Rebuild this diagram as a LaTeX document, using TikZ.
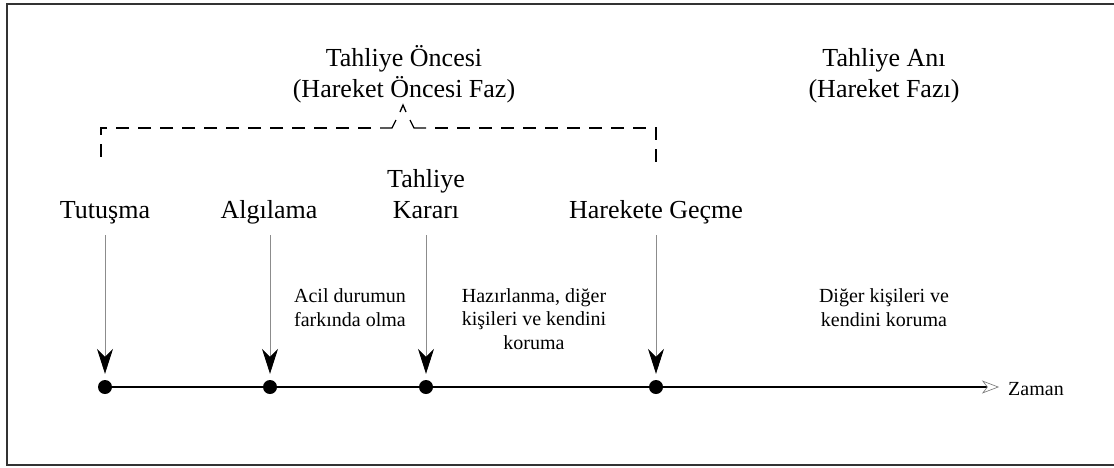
\documentclass[tikz,border=0pt]{standalone}
\usepackage{fontspec}
\setmainfont{Liberation Serif}
\usetikzlibrary{arrows.meta}
\begin{document}
\begin{tikzpicture}[x=1pt,y=-1pt,
  big/.style={font=\fontsize{26}{31}\selectfont, align=center, inner sep=0pt},
  small/.style={font=\fontsize{20}{23.5}\selectfont, align=center, inner sep=0pt},
  dot/.style={circle, fill=black, minimum size=14pt, inner sep=0pt},
  evarrow/.style={draw=black!45, line width=0.8pt, shorten >=6pt,
    -{Stealth[length=25pt,width=16pt,inset=8pt,black]}},
  timeline/.style={draw=black, line width=1.1pt,
    -{Stealth[open,length=17pt,width=13pt,inset=5pt,line width=0.6pt,black!55]}},
  bracket/.style={draw=black, line width=1.3pt, dash pattern=on 13pt off 9pt},
  bracesolid/.style={draw=black, line width=1.3pt}
]
\useasboundingbox (0,0) rectangle (1114,467);
\fill[white] (0,0) rectangle (1114,467);
\draw[line width=2pt, black!80] (1120,4) -- (7,4) -- (7,465) -- (1120,465);

% time line
\node[dot] (d1) at (105,387) {};
\node[dot] (d2) at (270,387) {};
\node[dot] (d3) at (426,387) {};
\node[dot] (d4) at (656,387) {};
\coordinate (tend) at (999,387);
\draw[timeline] (d1.center) -- (tend);
\node[small, anchor=west] (zaman) at (1008,389) {Zaman};

% event labels
\node[big, anchor=base] (l1) at (105,218) {Tutuşma};
\node[big, anchor=base] (l2) at (269,218) {Algılama};
\node[big, anchor=base] (l3) at (426,218) {Tahliye\\Kararı};
\node[big, anchor=base] (l4) at (656,218) {Harekete Geçme};

% event arrows
\coordinate (s1) at (105,235);
\coordinate (s2) at (270,235);
\coordinate (s3) at (426,235);
\coordinate (s4) at (656,235);
\draw[evarrow] (s1) -- (d1.north);
\draw[evarrow] (s2) -- (d2.north);
\draw[evarrow] (s3) -- (d3.north);
\draw[evarrow] (s4) -- (d4.north);

% phase descriptions
\node[small, anchor=base] (p1) at (350,326) {Acil durumun\\farkında olma};
\node[small, anchor=base] (p2) at (534,349) {Hazırlanma, diğer\\kişileri ve kendini\\koruma};
\node[small, anchor=base] (p3) at (884,326) {Diğer kişileri ve\\kendini koruma};

% phase headings
\node[big, anchor=base] (h1) at (404,97) {Tahliye Öncesi\\(Hareket Öncesi Faz)};
\node[big, anchor=base] (h2) at (884,97) {Tahliye Anı\\(Hareket Fazı)};

% dashed bracket with a small brace tip
\draw[bracket] (371,128) -- (101,128) -- (101,163);
\draw[bracket] (435,128) -- (656,128) -- (656,163);
\draw[bracesolid, line join=miter] (380,128) -- (392,128) -- (396,120);
\draw[bracesolid, line join=miter] (400,112) -- (403,105) -- (406,112);
\draw[bracesolid, line join=miter] (410,120) -- (414,128) -- (426,128);
\end{tikzpicture}
\end{document}
